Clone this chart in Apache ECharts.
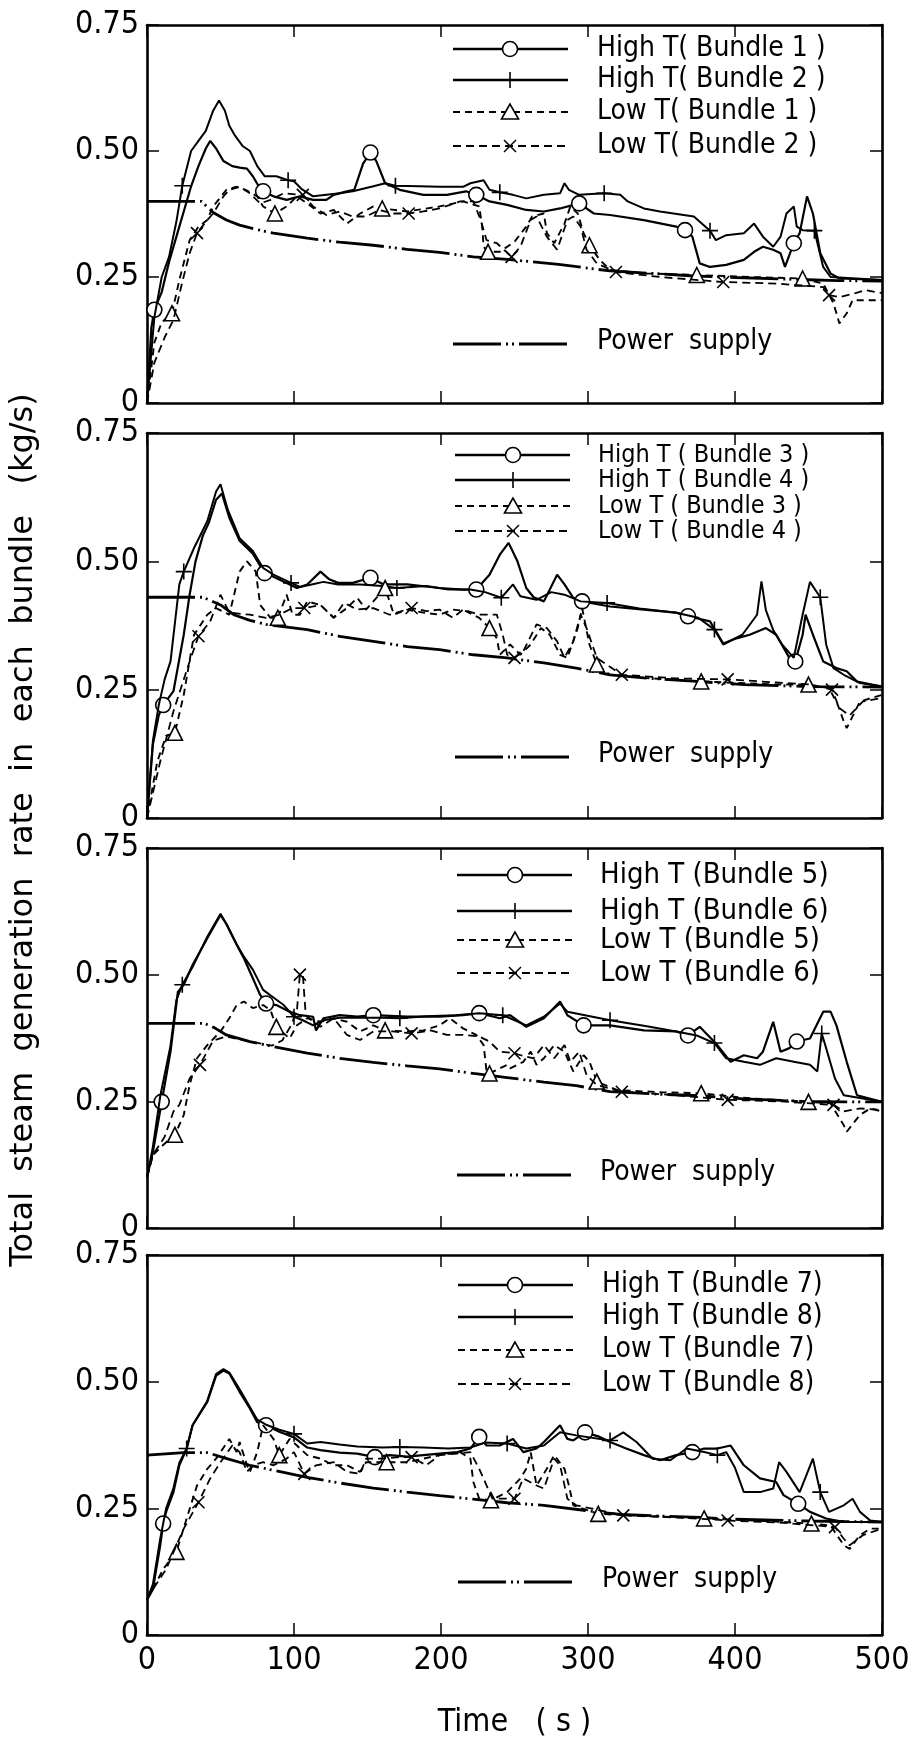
<!DOCTYPE html>
<html><head><meta charset="utf-8">
<script src="https://cdn.jsdelivr.net/npm/echarts@6/dist/echarts.min.js"></script>
<style>html,body{margin:0;padding:0;background:#fff}#c{width:922px;height:1743px}</style>
</head><body><div id="c"></div>
<script>
// ---------- tick labels ----------
const xTickLabels = ['0','100','200','300','400','500'];
const yTickLabels = ['0','0.25','0.50','0.75'];
const xTitle = 'Time   ( s )';
const yTitle = 'Total  steam  generation  rate  in  each  bundle   (kg/s)';
const powerName = 'Power  supply';

// ---------- panel 1 ----------
const p1Names = ['High T( Bundle 1 )','High T( Bundle 2 )','Low T( Bundle 1 )','Low T( Bundle 2 )'];
const p1Power = [[0,0.40],[37,0.40],[45,0.378],[54,0.363],[63,0.353],[75,0.344],[86,0.337],[109,0.327],[131,0.319],[154,0.313],[177,0.305],[199,0.299],[222,0.29],[245,0.285],[280,0.275],[315,0.262],[350,0.256],[372,0.252],[400,0.249],[444,0.245],[470,0.243],[500,0.242]];
const p1HighB1 = [[0,0],[3,0.15],[5,0.185],[10,0.22],[15,0.28],[20,0.33],[25,0.38],[30,0.43],[35,0.47],[40,0.505],[43,0.52],[47,0.505],[52,0.48],[58,0.47],[63,0.467],[68,0.465],[72,0.45],[76,0.43],[79,0.42],[86,0.41],[95,0.403],[104,0.41],[113,0.403],[122,0.403],[127,0.413],[136,0.42],[141,0.423],[147,0.475],[152,0.497],[156,0.48],[162,0.436],[172,0.423],[188,0.413],[204,0.413],[217,0.42],[224,0.413],[233,0.40],[245,0.393],[258,0.383],[270,0.38],[281,0.386],[294,0.396],[304,0.376],[315,0.373],[338,0.363],[360,0.35],[366,0.343],[371,0.33],[376,0.277],[383,0.27],[394,0.274],[406,0.284],[413,0.30],[419,0.31],[426,0.304],[431,0.297],[434,0.27],[440,0.317],[444,0.337],[449,0.41],[453,0.376],[458,0.297],[465,0.257],[471,0.247],[500,0.244]];
const p1HighB2 = [[0,0],[5,0.17],[10,0.25],[15,0.29],[20,0.36],[24,0.431],[30,0.50],[35,0.52],[40,0.54],[45,0.58],[49,0.60],[53,0.58],[56,0.55],[60,0.53],[65,0.51],[70,0.50],[75,0.47],[80,0.45],[88,0.45],[96,0.442],[100,0.44],[105,0.425],[113,0.41],[122,0.413],[131,0.416],[140,0.42],[154,0.43],[162,0.436],[169,0.431],[185,0.43],[199,0.429],[215,0.429],[220,0.436],[229,0.442],[233,0.423],[240,0.418],[249,0.413],[258,0.406],[270,0.413],[281,0.416],[284,0.436],[287,0.423],[294,0.413],[311,0.416],[322,0.413],[327,0.40],[338,0.386],[349,0.38],[372,0.37],[383,0.342],[387,0.323],[394,0.333],[406,0.337],[413,0.356],[419,0.33],[426,0.31],[431,0.33],[435,0.376],[440,0.39],[442,0.35],[446,0.343],[454,0.342],[460,0.27],[465,0.25],[500,0.244]];
const p1LowB1 = [[0,0],[5,0.12],[10,0.16],[17,0.178],[22,0.244],[29,0.323],[35,0.35],[41,0.363],[45,0.39],[54,0.423],[61,0.429],[67,0.423],[75,0.41],[79,0.39],[87,0.376],[95,0.39],[102,0.41],[109,0.396],[118,0.376],[127,0.383],[136,0.356],[145,0.376],[154,0.39],[160,0.386],[177,0.38],[199,0.39],[215,0.40],[226,0.39],[228,0.35],[229,0.31],[232,0.30],[240,0.30],[250,0.32],[258,0.35],[262,0.37],[270,0.376],[272,0.337],[277,0.317],[284,0.356],[288,0.39],[293,0.376],[297,0.337],[301,0.313],[308,0.284],[315,0.264],[340,0.257],[374,0.254],[410,0.25],[446,0.247],[460,0.237],[467,0.198],[471,0.158],[476,0.178],[480,0.204],[500,0.204]];
const p1LowB2 = [[0,0],[5,0.08],[12,0.13],[18,0.165],[24,0.24],[29,0.297],[34,0.337],[41,0.363],[45,0.376],[52,0.41],[56,0.423],[63,0.429],[70,0.416],[77,0.396],[84,0.403],[93,0.416],[106,0.413],[113,0.39],[122,0.373],[131,0.38],[140,0.37],[149,0.37],[158,0.383],[167,0.376],[178,0.376],[188,0.38],[199,0.386],[213,0.40],[222,0.40],[227,0.363],[231,0.323],[238,0.317],[248,0.29],[254,0.31],[261,0.363],[265,0.37],[272,0.33],[279,0.304],[286,0.363],[290,0.37],[295,0.35],[299,0.304],[306,0.277],[319,0.26],[349,0.25],[392,0.24],[428,0.237],[460,0.23],[464,0.214],[471,0.21],[482,0.218],[489,0.224],[500,0.218]];
const p1Marks = [[5,79,152,224,294,366,440],[24,96,169,240,311,383,454],[17,87,160,232,301,374,446],[34,106,178,248,319,392,464]];

// ---------- panel 2 ----------
const p2Names = ['High T ( Bundle 3 )','High T ( Bundle 4 )','Low T ( Bundle 3 )','Low T ( Bundle 4 )'];
const p2Power = [[0,0.43],[38,0.43],[50,0.415],[59,0.396],[70,0.385],[81,0.377],[109,0.367],[131,0.354],[154,0.344],[177,0.334],[199,0.328],[222,0.318],[245,0.312],[270,0.302],[292,0.292],[315,0.279],[338,0.273],[374,0.266],[406,0.26],[451,0.256],[500,0.255]];
const p2HighB3 = [[0,0],[4,0.143],[8,0.2],[11,0.22],[18,0.247],[25,0.357],[29,0.435],[33,0.50],[38,0.55],[42,0.575],[47,0.62],[51,0.632],[56,0.585],[63,0.54],[72,0.515],[80,0.477],[86,0.47],[95,0.458],[102,0.448],[109,0.455],[118,0.48],[124,0.465],[130,0.458],[140,0.458],[152,0.468],[161,0.455],[177,0.455],[199,0.448],[215,0.445],[224,0.445],[233,0.474],[240,0.513],[246,0.536],[252,0.50],[258,0.448],[263,0.43],[270,0.422],[279,0.474],[284,0.455],[290,0.429],[296,0.422],[315,0.412],[338,0.406],[360,0.40],[368,0.393],[383,0.383],[392,0.34],[401,0.35],[410,0.357],[421,0.37],[428,0.357],[437,0.312],[441,0.305],[446,0.357],[448,0.396],[453,0.357],[460,0.305],[469,0.292],[476,0.286],[483,0.266],[500,0.256]];
const p2HighB4 = [[0,0],[4,0.15],[8,0.22],[12,0.27],[16,0.305],[22,0.455],[25,0.48],[32,0.526],[41,0.578],[47,0.636],[50,0.65],[55,0.60],[63,0.545],[72,0.52],[79,0.487],[86,0.474],[98,0.458],[104,0.45],[112,0.455],[120,0.46],[130,0.455],[145,0.455],[160,0.452],[170,0.448],[190,0.452],[205,0.445],[220,0.445],[230,0.44],[241,0.429],[249,0.455],[254,0.432],[265,0.425],[275,0.44],[284,0.435],[295,0.422],[313,0.419],[335,0.408],[360,0.40],[375,0.39],[386,0.367],[392,0.338],[405,0.357],[415,0.396],[418,0.461],[421,0.405],[426,0.366],[432,0.338],[440,0.312],[446,0.396],[451,0.46],[458,0.43],[462,0.338],[467,0.292],[474,0.279],[485,0.263],[500,0.256]];
const p2LowB3 = [[0,0],[7,0.11],[13,0.16],[19,0.166],[25,0.24],[32,0.357],[41,0.396],[47,0.409],[56,0.396],[63,0.48],[68,0.50],[74,0.48],[77,0.415],[84,0.39],[89,0.39],[95,0.435],[99,0.396],[104,0.396],[109,0.422],[118,0.415],[127,0.39],[136,0.409],[143,0.429],[149,0.406],[158,0.435],[162,0.448],[168,0.396],[177,0.406],[188,0.40],[199,0.396],[208,0.406],[217,0.403],[226,0.39],[233,0.37],[238,0.35],[240,0.318],[247,0.338],[254,0.318],[261,0.338],[268,0.37],[274,0.357],[281,0.318],[286,0.312],[293,0.37],[296,0.409],[301,0.338],[306,0.299],[315,0.279],[338,0.273],[377,0.266],[428,0.26],[450,0.26],[464,0.253],[470,0.22],[474,0.188],[476,0.175],[485,0.227],[500,0.24]];
const p2LowB4 = [[0,0],[9,0.11],[18,0.208],[29,0.305],[35,0.354],[43,0.383],[50,0.435],[56,0.40],[70,0.396],[81,0.39],[90,0.396],[99,0.409],[107,0.409],[118,0.415],[127,0.39],[134,0.419],[143,0.406],[154,0.409],[165,0.396],[180,0.409],[190,0.403],[199,0.406],[208,0.39],[215,0.406],[226,0.396],[238,0.396],[242,0.357],[245,0.318],[250,0.312],[256,0.325],[265,0.377],[272,0.37],[279,0.344],[284,0.312],[290,0.344],[295,0.396],[299,0.37],[306,0.312],[323,0.279],[360,0.272],[395,0.27],[451,0.26],[466,0.25],[471,0.214],[478,0.20],[487,0.227],[500,0.234]];
const p2Marks = [[11,80,152,224,296,368,441],[25,98,170,241,313,386,458],[19,89,162,233,306,377,450],[35,107,180,250,323,395,466]];

// ---------- panel 3 ----------
const p3Names = ['High T (Bundle 5)','High T (Bundle 6)','Low T (Bundle 5)','Low T (Bundle 6)'];
const p3Power = [[0,0.404],[39,0.404],[46,0.395],[54,0.381],[70,0.368],[86,0.358],[109,0.345],[131,0.335],[154,0.327],[177,0.32],[199,0.314],[222,0.305],[245,0.297],[270,0.288],[292,0.281],[315,0.269],[349,0.264],[376,0.261],[406,0.255],[446,0.25],[474,0.249],[500,0.249]];
const p3HighB5 = [[0,0.10],[4,0.15],[10,0.249],[16,0.348],[21,0.466],[25,0.48],[31,0.519],[41,0.572],[50,0.618],[54,0.60],[61,0.559],[66,0.532],[72,0.493],[77,0.46],[81,0.443],[88,0.44],[97,0.427],[104,0.42],[113,0.417],[115,0.39],[120,0.414],[131,0.42],[143,0.417],[154,0.42],[177,0.417],[199,0.417],[215,0.42],[226,0.424],[240,0.414],[247,0.42],[258,0.397],[270,0.414],[281,0.447],[286,0.42],[297,0.40],[315,0.40],[338,0.39],[360,0.388],[368,0.38],[376,0.397],[388,0.361],[397,0.328],[406,0.341],[415,0.335],[419,0.348],[426,0.407],[431,0.348],[437,0.355],[442,0.368],[451,0.374],[460,0.427],[465,0.427],[469,0.40],[476,0.328],[483,0.262],[500,0.249]];
const p3HighB6 = [[0,0.10],[4,0.16],[9,0.26],[16,0.36],[20,0.45],[24,0.48],[31,0.515],[41,0.575],[50,0.62],[54,0.60],[61,0.56],[66,0.535],[72,0.51],[79,0.47],[86,0.455],[93,0.44],[100,0.417],[106,0.41],[113,0.40],[120,0.41],[131,0.415],[143,0.415],[160,0.415],[172,0.414],[190,0.418],[210,0.42],[226,0.424],[242,0.42],[247,0.414],[258,0.40],[270,0.417],[281,0.443],[286,0.427],[315,0.41],[340,0.398],[360,0.388],[374,0.38],[386,0.365],[394,0.335],[406,0.328],[417,0.322],[428,0.335],[440,0.328],[451,0.322],[456,0.309],[459,0.384],[462,0.355],[468,0.295],[474,0.262],[500,0.249]];
const p3LowB5 = [[0,0.10],[4,0.144],[11,0.164],[19,0.184],[25,0.223],[29,0.282],[34,0.335],[41,0.361],[50,0.388],[56,0.414],[61,0.44],[66,0.447],[72,0.434],[79,0.44],[84,0.43],[88,0.397],[97,0.374],[102,0.40],[109,0.414],[118,0.407],[127,0.414],[136,0.407],[145,0.388],[154,0.40],[162,0.39],[177,0.388],[188,0.39],[199,0.40],[206,0.414],[215,0.394],[224,0.381],[229,0.361],[231,0.309],[233,0.305],[245,0.322],[247,0.315],[256,0.328],[261,0.348],[265,0.322],[270,0.335],[277,0.361],[284,0.348],[290,0.309],[297,0.341],[301,0.328],[306,0.289],[320,0.272],[350,0.268],[377,0.266],[410,0.256],[450,0.249],[465,0.246],[474,0.203],[476,0.19],[485,0.223],[492,0.236],[500,0.23]];
const p3LowB6 = [[0,0.10],[4,0.144],[12,0.18],[18,0.23],[22,0.243],[29,0.295],[36,0.322],[45,0.37],[54,0.378],[70,0.368],[85,0.36],[92,0.37],[98,0.40],[102,0.43],[104,0.50],[106,0.50],[108,0.42],[112,0.41],[118,0.397],[127,0.414],[136,0.381],[145,0.371],[154,0.388],[167,0.388],[180,0.384],[193,0.39],[204,0.381],[215,0.381],[226,0.378],[233,0.368],[240,0.348],[250,0.345],[254,0.341],[263,0.335],[270,0.361],[277,0.335],[284,0.361],[288,0.328],[294,0.348],[299,0.302],[306,0.282],[323,0.269],[360,0.262],[395,0.253],[430,0.25],[467,0.243],[474,0.23],[485,0.236],[500,0.233]];
const p3Marks = [[10,81,154,226,297,368,442],[24,100,172,242,315,386,459],[19,88,162,233,306,377,450],[36,104,180,250,323,395,467]];

// ---------- panel 4 ----------
const p4Names = ['High T (Bundle 7)','High T (Bundle 8)','Low T (Bundle 7)','Low T (Bundle 8)'];
const p4Power = [[0,0.355],[25,0.36],[41,0.36],[52,0.35],[70,0.335],[86,0.325],[109,0.311],[131,0.3],[154,0.29],[177,0.282],[199,0.275],[222,0.268],[245,0.261],[270,0.256],[306,0.243],[322,0.238],[376,0.232],[394,0.229],[451,0.225],[474,0.224],[500,0.223]];
const p4HighB7 = [[0,0.07],[4,0.09],[9,0.177],[11,0.22],[13,0.243],[18,0.282],[22,0.335],[27,0.368],[31,0.414],[41,0.46],[47,0.512],[52,0.522],[56,0.516],[63,0.48],[70,0.447],[75,0.42],[81,0.414],[90,0.401],[100,0.39],[109,0.37],[118,0.365],[131,0.36],[143,0.358],[155,0.351],[165,0.355],[177,0.352],[188,0.355],[199,0.358],[211,0.361],[220,0.368],[226,0.391],[231,0.374],[240,0.374],[249,0.387],[256,0.361],[265,0.368],[270,0.381],[281,0.414],[286,0.387],[290,0.384],[298,0.40],[308,0.391],[315,0.381],[326,0.368],[338,0.355],[349,0.345],[360,0.355],[371,0.361],[379,0.368],[388,0.368],[397,0.374],[406,0.335],[417,0.309],[428,0.302],[433,0.276],[443,0.259],[451,0.243],[462,0.23],[474,0.223],[500,0.223]];
const p4HighB8 = [[0,0.07],[4,0.1],[9,0.19],[13,0.25],[18,0.29],[22,0.34],[27,0.368],[31,0.414],[41,0.462],[47,0.515],[52,0.525],[56,0.518],[63,0.485],[70,0.45],[75,0.425],[81,0.415],[90,0.405],[100,0.397],[109,0.378],[118,0.381],[131,0.376],[143,0.372],[160,0.37],[172,0.371],[188,0.37],[205,0.368],[220,0.37],[230,0.38],[245,0.378],[258,0.368],[270,0.374],[281,0.40],[292,0.394],[315,0.384],[324,0.40],[333,0.381],[344,0.348],[356,0.345],[367,0.368],[379,0.361],[388,0.355],[394,0.361],[400,0.33],[406,0.282],[417,0.282],[426,0.289],[430,0.341],[435,0.322],[444,0.282],[453,0.348],[458,0.282],[464,0.243],[474,0.256],[480,0.269],[485,0.243],[492,0.226],[500,0.223]];
const p4LowB7 = [[0,0.07],[4,0.09],[11,0.13],[20,0.164],[27,0.23],[34,0.295],[41,0.328],[47,0.348],[56,0.387],[61,0.361],[63,0.381],[68,0.335],[70,0.322],[75,0.361],[79,0.414],[86,0.387],[90,0.355],[97,0.387],[102,0.374],[109,0.355],[118,0.348],[127,0.335],[136,0.335],[145,0.322],[149,0.341],[163,0.341],[177,0.341],[188,0.348],[199,0.355],[213,0.361],[220,0.348],[222,0.302],[226,0.269],[234,0.266],[245,0.282],[254,0.309],[258,0.328],[261,0.361],[265,0.295],[272,0.328],[277,0.355],[284,0.328],[287,0.295],[290,0.256],[307,0.239],[340,0.235],[379,0.23],[420,0.225],[452,0.22],[465,0.216],[474,0.177],[478,0.17],[485,0.197],[492,0.21],[500,0.21]];
const p4LowB8 = [[0,0.07],[4,0.09],[13,0.13],[25,0.21],[35,0.262],[43,0.309],[50,0.341],[58,0.374],[63,0.361],[68,0.322],[72,0.335],[79,0.341],[86,0.335],[95,0.348],[100,0.361],[107,0.318],[115,0.335],[127,0.341],[136,0.322],[145,0.318],[149,0.348],[158,0.348],[172,0.351],[180,0.351],[190,0.335],[199,0.355],[211,0.358],[220,0.361],[226,0.328],[235,0.269],[250,0.269],[256,0.309],[265,0.295],[270,0.289],[277,0.348],[281,0.335],[286,0.269],[292,0.256],[324,0.236],[360,0.232],[395,0.226],[430,0.222],[468,0.213],[474,0.19],[478,0.177],[487,0.197],[500,0.21]];
const p4Marks = [[11,81,155,226,298,371,443],[27,100,172,245,315,388,458],[20,90,163,234,307,379,452],[35,107,180,250,324,395,468]];

// ---------- layout / style ----------
const NARROW = "'Liberation Sans Narrow','DejaVu Sans Condensed','Arial Narrow','Liberation Sans',sans-serif";
const WIDE = "'DejaVu Sans','Liberation Sans',sans-serif";
const PLOT_LEFT = 147, PLOT_W = 735;
const panels = [
  {top:25,  height:378, names:p1Names, lines:[p1HighB1,p1HighB2,p1LowB1,p1LowB2], marks:p1Marks, power:p1Power,
   lg:{rows:[49,80,112,146], pw:344, x0:453, x1:568, mx:510, tx:597, fs:28}},
  {top:433, height:385, names:p2Names, lines:[p2HighB3,p2HighB4,p2LowB3,p2LowB4], marks:p2Marks, power:p2Power,
   lg:{rows:[455,480,506,531], pw:757, x0:455, x1:570, mx:513, tx:598, fs:25}},
  {top:848, height:380, names:p3Names, lines:[p3HighB5,p3HighB6,p3LowB5,p3LowB6], marks:p3Marks, power:p3Power,
   lg:{rows:[875,911,940,973], pw:1175, x0:457, x1:572, mx:515, tx:600, fs:29}},
  {top:1255,height:380, names:p4Names, lines:[p4HighB7,p4HighB8,p4LowB7,p4LowB8], marks:p4Marks, power:p4Power,
   lg:{rows:[1285,1317,1350,1384], pw:1582, x0:458, x1:573, mx:515, tx:602, fs:28}}
];
const STYLES = [
  {symbol:'circle', size:15, width:2.2, dash:'solid', kind:'circle'},
  {symbol:'path://M1,0L1,2M0,1L2,1', size:16, width:2.0, dash:'solid', kind:'plus'},
  {symbol:'triangle', size:15, width:1.9, dash:[7,5], kind:'tri'},
  {symbol:'path://M0,0L2,2M0,2L2,0', size:12, width:1.8, dash:[8,5], kind:'x'}
];
const POWER_DASH = [48,5,2,4,2,5];

const grids=[], xAxes=[], yAxes=[], series=[], graphics=[];
panels.forEach((p, i) => {
  grids.push({left:PLOT_LEFT, top:p.top, width:PLOT_W, height:p.height, containLabel:false});
  const axLine = {show:true, onZero:false, lineStyle:{color:'#000', width:2.6}};
  const tick = {show:true, inside:true, length:12, lineStyle:{color:'#000', width:1.5}};
  xAxes.push({gridIndex:i, type:'value', min:0, max:500, interval:100, position:'bottom',
    axisLine:axLine, axisTick:tick, splitLine:{show:false},
    axisLabel:{show:i===3, margin:10, color:'#000', fontFamily:NARROW, fontSize:32,
      formatter:(v)=>xTickLabels[Math.round(v/100)]},
    name: i===3 ? xTitle : '', nameLocation:'middle', nameGap:72,
    nameTextStyle:{color:'#000', fontFamily:NARROW, fontSize:32}});
  xAxes.push({gridIndex:i, type:'value', min:0, max:500, interval:100, position:'top',
    axisLine:axLine, axisTick:tick, splitLine:{show:false}, axisLabel:{show:false}});
  yAxes.push({gridIndex:i, type:'value', min:0, max:0.75, interval:0.25, position:'left',
    axisLine:axLine, axisTick:tick, splitLine:{show:false},
    axisLabel:{show:true, margin:8, color:'#000', fontFamily:NARROW, fontSize:32,
      formatter:(v)=>yTickLabels[Math.round(v/0.25)]}});
  yAxes.push({gridIndex:i, type:'value', min:0, max:0.75, interval:0.25, position:'right',
    axisLine:axLine, axisTick:tick, splitLine:{show:false}, axisLabel:{show:false}});

  // power supply
  series.push({type:'line', name:'Power supply '+i, xAxisIndex:2*i, yAxisIndex:2*i,
    data:p.power, showSymbol:false, symbol:'none', animation:false, silent:true,
    lineStyle:{color:'#000', width:2.8, type:POWER_DASH}, z:2});

  p.lines.forEach((arr, k) => {
    const st = STYLES[k];
    const marks = p.marks[k];
    const data = arr.map(pt => marks.indexOf(pt[0]) >= 0
      ? {value:pt, symbol:st.symbol, symbolSize:st.size}
      : {value:pt, symbol:'none'});
    series.push({type:'line', name:p.names[k], xAxisIndex:2*i, yAxisIndex:2*i, data,
      showSymbol:true, showAllSymbol:true, symbol:st.symbol, symbolSize:st.size,
      animation:false, silent:true, z:3+k,
      lineStyle:{color:'#000', width:st.width, type:st.dash},
      itemStyle:{color:'#fff', borderColor:'#000', borderWidth:1.6}});
  });

  // legend drawn with graphic primitives
  const L = p.lg;
  p.names.forEach((nm, k) => {
    const st = STYLES[k], y = L.rows[k], mx = L.mx;
    graphics.push({type:'line', shape:{x1:L.x0, y1:y, x2:L.x1, y2:y},
      style:{stroke:'#000', lineWidth:st.width+0.3, lineDash: st.dash==='solid'?null:st.dash}});
    if (st.kind==='circle') graphics.push({type:'circle', shape:{cx:mx, cy:y, r:7.5}, style:{fill:'#fff', stroke:'#000', lineWidth:1.6}});
    if (st.kind==='tri') graphics.push({type:'polygon', shape:{points:[[mx,y-8],[mx-8.5,y+7],[mx+8.5,y+7]]}, style:{fill:'#fff', stroke:'#000', lineWidth:1.6}});
    if (st.kind==='plus') { graphics.push({type:'line', shape:{x1:mx, y1:y-8, x2:mx, y2:y+8}, style:{stroke:'#000', lineWidth:1.6}}); }
    if (st.kind==='x') { graphics.push({type:'line', shape:{x1:mx-6, y1:y-6, x2:mx+6, y2:y+6}, style:{stroke:'#000', lineWidth:1.5}});
                         graphics.push({type:'line', shape:{x1:mx-6, y1:y+6, x2:mx+6, y2:y-6}, style:{stroke:'#000', lineWidth:1.5}}); }
    graphics.push({type:'text', style:{text:nm, x:L.tx, y:y, fill:'#000', font:`${L.fs}px ${NARROW}`, align:'left', verticalAlign:'middle'}});
  });
  graphics.push({type:'line', shape:{x1:L.x0, y1:L.pw, x2:L.x1, y2:L.pw}, style:{stroke:'#000', lineWidth:2.8, lineDash:POWER_DASH}});
  graphics.push({type:'text', style:{text:powerName, x:L.tx, y:L.pw-2, fill:'#000', font:`28px ${NARROW}`, align:'left', verticalAlign:'middle'}});
});

graphics.push({type:'text', x:24, y:830, rotation:Math.PI/2,
  style:{text:yTitle, x:0, y:0, fill:'#000', font:`32px ${WIDE}`, align:'center', verticalAlign:'middle'}});

const chart = echarts.init(document.getElementById('c'), null, {renderer:'canvas'});
chart.setOption({
  backgroundColor:'#fff', animation:false,
  grid:grids, xAxis:xAxes, yAxis:yAxes, series, graphic:graphics
});
</script></body></html>
